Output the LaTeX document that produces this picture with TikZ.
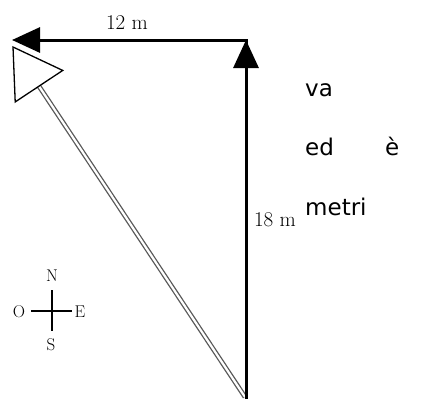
\documentclass[tikz,border=0pt]{standalone}
\usepackage{fontspec}
\newfontfamily\sidefont{DejaVu Sans}
\usetikzlibrary{arrows.meta,calc}
\tikzset{
  vecline/.style={line width=3pt},
  bluntarrow/.style={vecline,-{Triangle[length=28pt,width=25pt]}},
  lbl/.style={font=\fontsize{21}{21}\selectfont, inner sep=0pt},
  cmp/.style={font=\fontsize{17}{17}\selectfont, inner sep=0pt},
  sidetxt/.style={font=\sidefont\fontsize{23}{23}\selectfont, inner sep=0pt, anchor=base west},
}
\begin{document}
\begin{tikzpicture}[x=1pt,y=-1pt]
\useasboundingbox (0,0) rectangle (427,407);
\coordinate (start) at (245,397);
\coordinate (corner) at (246,40);
\coordinate (west) at (12,40);
\coordinate (tip) at (13,47);
% resultant (hollow double arrow)
\coordinate (base) at ($(tip)!47pt!(start)$);
\coordinate (wl) at ($(base)!28.5pt!90:(start)$);
\coordinate (wr) at ($(base)!28.5pt!-90:(start)$);
\draw[draw=black!65, double=white, double distance=2.2pt, line width=1.3pt] (start) -- (base);
\draw[line width=1.3pt, fill=white, line join=miter] (tip) -- (wl) -- (wr) -- cycle;
% components
\draw[vecline, line cap=rect] (246,397) -- (corner) -- (60,40);
\draw[bluntarrow] (246,397) -- (corner);
\draw[bluntarrow] (corner) -- (west);
\node[lbl] (l12) at (127,23) {12 m};
\node[lbl] (l18) at (275,220) {18 m};
% compass
\draw[line width=1.2pt] (31,311) -- (72,311);
\draw[line width=1.2pt] (52,290) -- (52,331);
\node[cmp] (n) at (52,276) {N};
\node[cmp] (o) at (19,312) {O};
\node[cmp] (e) at (80,312) {E};
\node[cmp] (s) at (51,345) {S};
% side text
\node[sidetxt] (t1) at (305,96) {va};
\node[sidetxt] (t2) at (305,155) {ed};
\node[sidetxt] (t3) at (385,155) {è};
\node[sidetxt] (t4) at (305,215) {metri};
\end{tikzpicture}
\end{document}
